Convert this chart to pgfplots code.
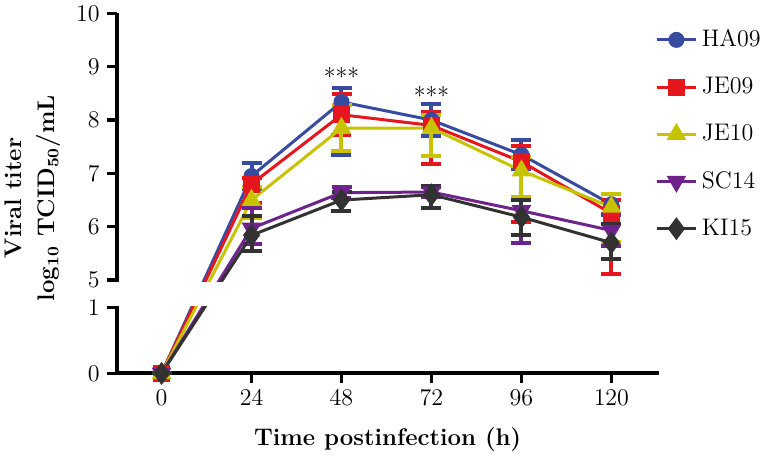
\documentclass[border=0pt]{standalone}
\usepackage{pgfplots}
\usepackage{pgfplotstable}
\pgfplotsset{compat=1.18}

\definecolor{cHA}{RGB}{55,75,160}
\definecolor{cJE}{RGB}{230,22,30}
\definecolor{cJT}{RGB}{200,195,0}
\definecolor{cSC}{RGB}{110,35,140}
\definecolor{cKI}{RGB}{50,50,50}

% x = hours, y = log10 titer, ep/em = error up/down
\pgfplotstableread{
x y ep em
0 0 0 0
24 6.95 0.25 0.25
48 8.34 0.27 1.00
72 8.00 0.31 0.30
96 7.35 0.27 0.27
120 6.42 0.20 0.20
}\tHA
\pgfplotstableread{
x y ep em
0 0 0 0
24 6.80 0.12 0.36
48 8.10 0.38 0.38
72 7.90 0.25 0.73
96 7.22 0.30 1.14
120 6.25 0.25 1.14
}\tJE
\pgfplotstableread{
x y ep em
0 0 0 0
24 6.50 0.25 0.34
48 7.85 0.43 0.43
72 7.85 0.24 0.53
96 7.05 0.25 0.50
120 6.37 0.24 0.65
}\tJT
\pgfplotstableread{
x y ep em
0 0 0 0
24 5.97 0.38 0.30
48 6.64 0.10 0.10
72 6.65 0.10 0.10
96 6.30 0.20 0.60
120 5.93 0.30 0.30
}\tSC
\pgfplotstableread{
x y ep em
0 0 0 0
24 5.84 0.36 0.30
48 6.50 0.15 0.20
72 6.60 0.17 0.24
96 6.18 0.33 0.33
120 5.70 0.36 0.30
}\tKI

\pgfplotsset{
  sHA/.style={color=cHA, line width=1.5pt, mark=*, mark size=3.25pt, mark options={solid}},
  sJE/.style={color=cJE, line width=1.5pt, mark=square*, mark size=3.5pt, mark options={solid}},
  sJT/.style={color=cJT, line width=1.5pt, mark=triangle*, mark size=4.2pt, mark options={solid}},
  sSC/.style={color=cSC, line width=1.5pt, mark=triangle*, mark size=4.2pt, mark options={solid, rotate=180}},
  sKI/.style={color=cKI, line width=1.5pt, mark=diamond*, mark size=4.5pt, mark options={solid}},
  eb/.style={error bars/.cd, y dir=both, y explicit,
    error bar style={line width=2pt},
    error mark options={rotate=90, mark size=5pt, line width=2pt}},
}

\begin{document}
\begin{tikzpicture}
\path[use as bounding box] (-58.3pt,-41.3pt) rectangle (323.7pt,186.7pt);

\begin{axis}[width=271pt, height=180pt, scale only axis,
    at={(0,0)}, anchor=south west,
    xmin=-12, xmax=132.6, ymin=0, ymax=10,
    % broken y axis: 0..1 below, 5..10 above, gap in between
    y coord trafo/.code={\pgfmathparse{#1<=1 ? 1.238*#1 : #1-3.25}},
    axis x line=bottom, axis y line=left,
    axis line style={line width=2pt, -},
    x axis line style={-}, y axis line style={-},
    tick align=outside, major tick length=5pt,
    tick style={line width=1.6pt, black},
    ticklabel style={font=\fontsize{12}{14}\selectfont},
    xtick={0,24,...,120},
    ytick={0,1,5,6,7,8,9,10}, yticklabels={0,1,5,6,7,8,9,10},
    xlabel={Time postinfection (h)},
    xlabel style={font=\bfseries\fontsize{12}{14}\selectfont, yshift=-4pt},
    clip=false,
    legend style={at={(axis description cs:1,1)}, anchor=north west,
      xshift=-5pt, yshift=-4pt, draw=none, fill=none,
      font=\fontsize{12}{14}\selectfont, row sep=9.8pt},
    legend cell align=left,
    legend image code/.code={\draw[mark repeat=2, mark phase=2]
      plot coordinates {(0cm,0cm) (0.35cm,0cm) (0.7cm,0cm)};}]
\addplot[sHA, eb] table[x=x, y=y, y error plus=ep, y error minus=em] {\tHA};
\addplot[sJE, eb] table[x=x, y=y, y error plus=ep, y error minus=em] {\tJE};
\addplot[sJT, eb] table[x=x, y=y, y error plus=ep, y error minus=em] {\tJT};
\addplot[sSC, eb] table[x=x, y=y, y error plus=ep, y error minus=em] {\tSC};
\addplot[sKI, eb] table[x=x, y=y, y error plus=ep, y error minus=em] {\tKI};
\legend{HA09, JE09, JE10, SC14, KI15}
% axis break between 1 and 5
\fill[white] ([xshift=-1.6pt, yshift=0.9pt]axis cs:-12,1)
  rectangle ([yshift=-0.9pt]axis cs:132.6,5);
\node[anchor=base, font=\fontsize{12}{14}\selectfont] at (axis cs:48,8.64) {***};
\node[anchor=base, font=\fontsize{12}{14}\selectfont] at (axis cs:72,8.30) {***};
\end{axis}

\node[rotate=90, align=center, font=\bfseries\fontsize{12}{16.5}\selectfont]
  at (-41.8pt,87.7pt) {Viral titer\\log\textsubscript{10} TCID\textsubscript{50}/mL};
\end{tikzpicture}
\end{document}
